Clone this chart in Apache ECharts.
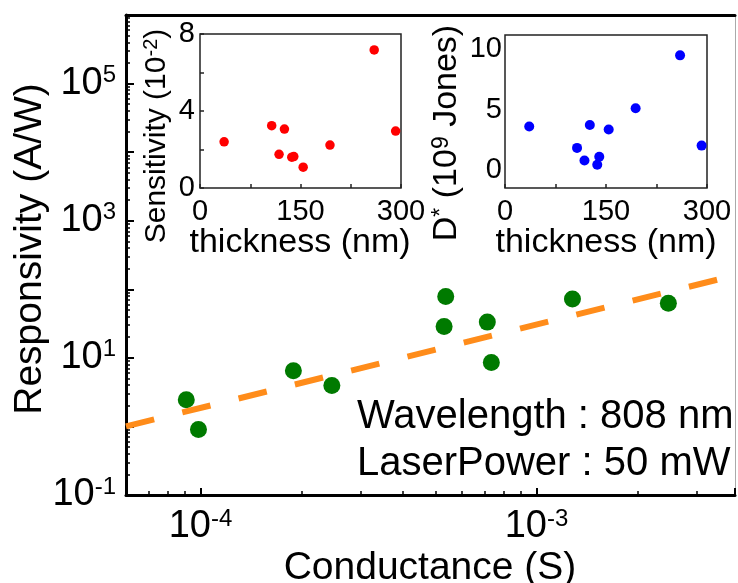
<!DOCTYPE html>
<html><head><meta charset="utf-8">
<script src="https://cdn.jsdelivr.net/npm/echarts@6/dist/echarts.min.js"></script>
<style>html,body{margin:0;padding:0;background:#fff}#c{width:738px;height:583px}</style>
</head><body><div id="c"></div>
<script>
// Main plot data
const conductance = [9.07e-5, 9.86e-5, 1.89e-4, 2.46e-4, 5.37e-4, 5.31e-4, 7.14e-4, 7.34e-4, 1.28e-3, 2.47e-3];
const responsivity = [2.45, 0.90, 6.49, 3.96, 78.3, 28.6, 33.2, 8.57, 72.4, 62.8];
const fitConductance = [6e-5, 3.9e-3];
const fitResponsivity = [1.0, 160];
// Inset data
const thickness = [36, 107, 118, 126, 137, 140, 154, 194, 260, 292];
const sensitivity = [2.4, 3.24, 1.75, 3.06, 1.6, 1.63, 1.08, 2.23, 7.17, 2.96];
const dStar = [3.6, 1.83, 0.79, 3.73, 0.43, 1.09, 3.35, 5.12, 9.51, 2.02];
// Axis ranges and tick labels
const xRange = [6e-5, 3.9e-3];
const yRange = [0.1, 1e6];
const xLabelExps = [-4, -3];
const yLabelExps = [-1, 1, 3, 5];
const dStarTicks = [0, 5, 10];

const FF = '"Liberation Sans", Arial, sans-serif';
const chart = echarts.init(document.getElementById('c'));

function powLabel(exps) {
  return function (v) {
    const l = Math.log10(v);
    const e = Math.round(l);
    if (Math.abs(l - e) > 1e-6 || exps.indexOf(e) < 0) return '';
    return '{b|10}{s|' + e + '}';
  };
}
function powRich() {
  return {
    b: {fontSize: 38, fontFamily: FF, color: '#000', lineHeight: 40},
    s: {fontSize: 24, fontFamily: FF, color: '#000', verticalAlign: 'top', lineHeight: 40, padding: [0, 0, 14, 0]}
  };
}
const zip = (a, b) => a.map((v, i) => [v, b[i]]);
function insetTick() { return {show: true, inside: true, length: 4, lineStyle: {color: '#222', width: 1.5}}; }
function insetMinor() { return {show: true, splitNumber: 2, length: 4, lineStyle: {color: '#222', width: 1.5}}; }
function insetLabel(m) { return {fontSize: 29, fontFamily: FF, color: '#000', margin: m}; }

const option = {
  animation: false,
  grid: [
    {left: 126, top: 15, width: 609, height: 480},
    {left: 200, top: 34, width: 201, height: 154, show: true, borderColor: '#222', borderWidth: 1.5},
    {left: 505, top: 35, width: 202, height: 153, show: true, borderColor: '#222', borderWidth: 1.5}
  ],
  xAxis: [
    {
      type: 'log', gridIndex: 0, min: xRange[0], max: xRange[1],
      axisLine: {show: true, onZero: false, lineStyle: {color: '#000', width: 3}},
      axisTick: {show: true, inside: true, length: 7, lineStyle: {width: 2, color: '#000'}},
      minorTick: {show: true, splitNumber: 9, length: 4, lineStyle: {width: 1.5, color: '#000'}},
      splitLine: {show: false},
      axisLabel: {formatter: powLabel(xLabelExps), rich: powRich(), margin: 12}
    },
    {
      type: 'log', gridIndex: 0, position: 'top', min: xRange[0], max: xRange[1],
      axisLine: {show: true, onZero: false, lineStyle: {color: '#000', width: 3}},
      axisTick: {show: false}, axisLabel: {show: false}, splitLine: {show: false}
    },
    {
      type: 'value', gridIndex: 1, min: 0, max: 300, interval: 150,
      axisLine: {show: false, onZero: false},
      axisTick: insetTick(), minorTick: insetMinor(),
      splitLine: {show: false}, axisLabel: insetLabel(9)
    },
    {
      type: 'value', gridIndex: 2, min: 0, max: 300, interval: 150,
      axisLine: {show: false, onZero: false},
      axisTick: insetTick(), minorTick: insetMinor(),
      splitLine: {show: false}, axisLabel: insetLabel(9)
    }
  ],
  yAxis: [
    {
      type: 'log', gridIndex: 0, position: 'left', min: yRange[0], max: yRange[1],
      axisLine: {show: true, onZero: false, lineStyle: {color: '#000', width: 3}},
      axisTick: {show: true, inside: true, length: 8, lineStyle: {width: 2, color: '#000'}},
      minorTick: {show: true, splitNumber: 9, length: 4, lineStyle: {width: 1.5, color: '#000'}},
      splitLine: {show: false},
      axisLabel: {show: false}
    },
    {
      type: 'log', gridIndex: 0, position: 'right', min: yRange[0], max: yRange[1],
      axisLine: {show: true, onZero: false, lineStyle: {color: '#aaa', width: 1}},
      axisTick: {show: false}, axisLabel: {show: false}, splitLine: {show: false}
    },
    {
      type: 'value', gridIndex: 1, min: 0, max: 8, interval: 4,
      axisLine: {show: false, onZero: false},
      axisTick: insetTick(), minorTick: insetMinor(),
      splitLine: {show: false}, axisLabel: insetLabel(5)
    },
    {
      type: 'value', gridIndex: 2, min: -1.5, max: 11.2,
      axisLine: {show: false, onZero: false},
      axisTick: {show: false},
      splitLine: {show: false},
      axisLabel: {fontSize: 29, fontFamily: FF, color: '#000', margin: 3, customValues: dStarTicks}
    },
    {
      // label-only axis for the main log y axis
      type: 'log', gridIndex: 0, position: 'left', offset: 0, min: yRange[0], max: yRange[1],
      axisLine: {show: false, onZero: false}, axisTick: {show: false}, splitLine: {show: false},
      axisLabel: {formatter: powLabel(yLabelExps), rich: powRich(), margin: 10}
    }
  ],
  series: [
    {
      type: 'scatter', xAxisIndex: 0, yAxisIndex: 0, symbolSize: 17,
      itemStyle: {color: '#007a00', opacity: 1}, data: zip(conductance, responsivity)
    },
    {
      type: 'line', xAxisIndex: 0, yAxisIndex: 0, symbol: 'none',
      lineStyle: {color: '#ff8c1a', width: 6, type: [29, 29], cap: 'butt'},
      data: zip(fitConductance, fitResponsivity)
    },
    {
      type: 'scatter', xAxisIndex: 2, yAxisIndex: 2, symbolSize: 9.5,
      itemStyle: {color: '#ff0000', opacity: 1}, data: zip(thickness, sensitivity)
    },
    {
      type: 'scatter', xAxisIndex: 3, yAxisIndex: 3, symbolSize: 10,
      itemStyle: {color: '#0000ff', opacity: 1}, data: zip(thickness, dStar)
    }
  ],
  graphic: [
    {type: 'text', x: 30, y: 249, rotation: Math.PI / 2,
      style: {text: 'Responsivity (A/W)', font: '39px ' + FF, fill: '#000', align: 'center', verticalAlign: 'middle'}},
    {type: 'text', x: 430, y: 568,
      style: {text: 'Conductance (S)', font: '39px ' + FF, fill: '#000', align: 'center', verticalAlign: 'middle'}},
    {type: 'text', x: 357, y: 417,
      style: {text: 'Wavelength : 808 nm', font: '40px ' + FF, fill: '#000', align: 'left', verticalAlign: 'middle'}},
    {type: 'text', x: 357, y: 464,
      style: {text: 'LaserPower : 50 mW', font: '40px ' + FF, fill: '#000', align: 'left', verticalAlign: 'middle'}},
    {type: 'text', x: 300, y: 243,
      style: {text: 'thickness (nm)', font: '34px ' + FF, fill: '#000', align: 'center', verticalAlign: 'middle'}},
    {type: 'text', x: 606, y: 243,
      style: {text: 'thickness (nm)', font: '34px ' + FF, fill: '#000', align: 'center', verticalAlign: 'middle'}},
    {type: 'text', x: 157, y: 136, rotation: Math.PI / 2,
      style: {text: '{b|Sensitivity (10}{s|-2}{b|)}', align: 'center', verticalAlign: 'middle',
        rich: {b: {fontSize: 30, fontFamily: FF, color: '#000', lineHeight: 32},
               s: {fontSize: 20, fontFamily: FF, color: '#000', verticalAlign: 'top', lineHeight: 32, padding: [0, 0, 10, 0]}}}},
    {type: 'text', x: 447, y: 133, rotation: Math.PI / 2,
      style: {text: '{b|D}{s|*}{b| (10}{s|9}{b| Jones)}', align: 'center', verticalAlign: 'middle',
        rich: {b: {fontSize: 34, fontFamily: FF, color: '#000', lineHeight: 34},
               s: {fontSize: 23, fontFamily: FF, color: '#000', verticalAlign: 'top', lineHeight: 34, padding: [0, 0, 11, 0]}}}}
  ]
};
chart.setOption(option);
</script>
</body></html>
